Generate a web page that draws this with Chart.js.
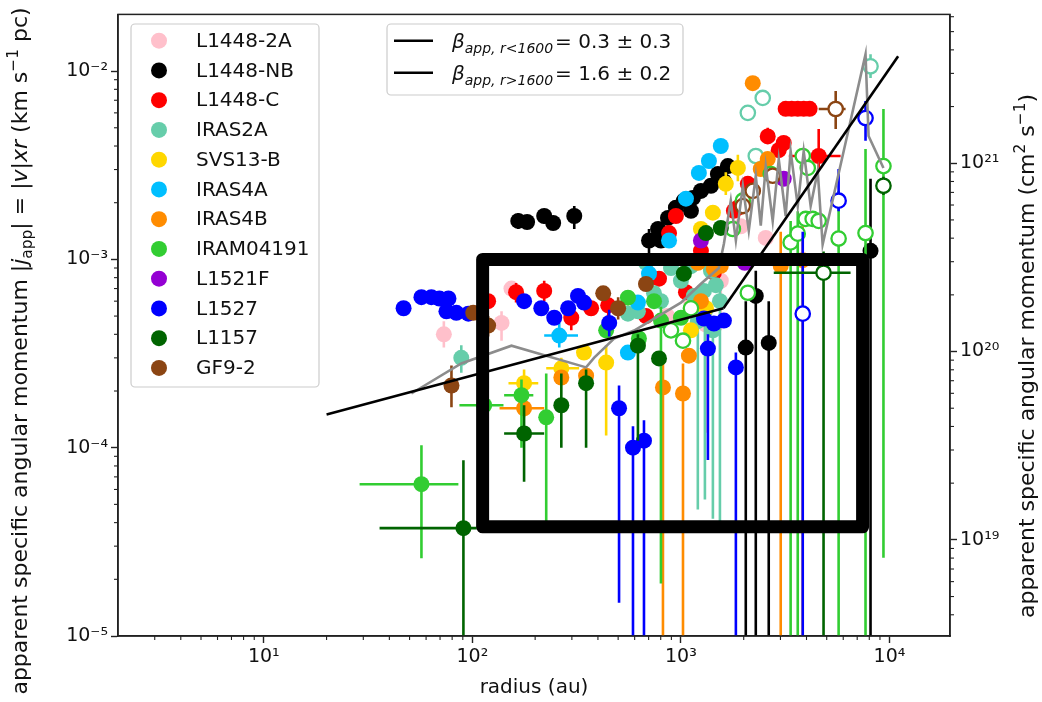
<!DOCTYPE html>
<html><head><meta charset="utf-8"><title>apparent specific angular momentum vs radius</title>
<script src="https://cdn.jsdelivr.net/npm/chart.js@4.4.1/dist/chart.umd.min.js"></script>
<style>html,body{margin:0;padding:0;background:#fff;overflow:hidden}canvas{display:block}</style>
</head><body>
<canvas id="c" width="1042" height="702" style="width:1042px;height:702px"></canvas>
<script>
// ---- data: each point = [r (au), j (km/s pc), jLow, jHigh, rLow, rHigh] ----
const seriesNames = ['L1448-2A','L1448-NB','L1448-C','IRAS2A','SVS13-B','IRAS4A','IRAS4B','IRAM04191','L1521F','L1527','L1157','GF9-2'];
const seriesColors = ['#FFC0CB','#000000','#FF0000','#66CDAA','#FFD700','#00BFFF','#FF8C00','#32CD32','#9400D3','#0000FF','#006400','#8B4513'];

const L1448_2A = [[73,4.0e-4,3.4e-4,4.7e-4],[138,4.6e-4,3.7e-4,5.3e-4],[154,7.0e-4],[1117,6.0e-4],[1318,4.5e-4,1.2e-4,5.2e-4],[1553,7.7e-4,4.2e-4,9.0e-4],[1936,1.5e-3],[2551,1.3e-3],[860,5.0e-4]];
const L1448_NB = [[166,1.60e-3,1.45e-3,1.76e-3],[183,1.58e-3],[221,1.70e-3,1.55e-3,1.85e-3],[244,1.56e-3],[308,1.70e-3,1.45e-3,1.92e-3],[703,1.26e-3,9.6e-4,1.45e-3],[777,1.45e-3],[802,1.26e-3],[867,1.66e-3],[946,1.88e-3],[1033,2.05e-3],[1117,1.81e-3],[1141,2.12e-3],[1247,2.31e-3],[1393,2.46e-3],[1504,2.84e-3],[1607,2.6e-3],[1679,3.13e-3],[2046,3.4e-4,1e-6,6.0e-4],[2285,6.4e-4,1e-6,8.7e-4],[2636,3.6e-4,1e-6,6.0e-4],[8110,1.11e-3,1e-6,2.68e-3]];
const L1448_C = [[119,6.0e-4],[162,6.7e-4,5.9e-4,7.5e-4],[221,6.8e-4,6.0e-4,7.7e-4],[298,4.9e-4,4.2e-4,5.7e-4],[371,5.5e-4],[448,5.7e-4,4.9e-4,6.6e-4],[785,7.9e-4],[1057,6.7e-4],[877,1.38e-3],[946,1.70e-3],[1247,1.11e-3],[1439,8.5e-4],[1794,1.81e-3],[1875,1.88e-3],[2093,2.52e-3],[2607,4.5e-3,4.1e-3,5.0e-3],[2944,3.8e-3],[3110,4.15e-3],[3178,6.3e-3],[3395,6.3e-3],[3631,6.3e-3],[3878,6.3e-3],[4140,6.3e-3],[4576,3.54e-3,2.95e-3,4.93e-3,3290,5830],[680,5.0e-4]];
const IRAS2A = [[88.5,3.0e-4,2.5e-4,3.5e-4],[557,5.15e-4],[622,5.3e-4],[680,9.6e-4],[743,6.6e-4],[802,6.0e-4],[896,9.0e-4],[1000,7.7e-4],[1117,9.2e-4],[1153,6.4e-4],[1205,4.7e-4,4.7e-5,5.6e-4],[1289,6.8e-4],[1303,5.3e-4,5.3e-5,6.2e-4],[1393,8.7e-4],[1423,4.2e-4,4.2e-5,5.0e-4],[1470,7.3e-4],[1538,6.0e-4,3.9e-5,7.0e-4]];
const IRAS2A_open = [[2093,6.0e-3],[2467,7.2e-3],[2285,3.54e-3],[8110,1.06e-2,9.2e-3,1.23e-2]];
const SVS13_B = [[177,2.2e-4,1.9e-4,2.6e-4,149,207],[267,2.64e-4,2.3e-4,3.0e-4,226,325],[343,3.2e-4],[438,2.83e-4,1.16e-4,3.5e-4],[1117,4.2e-4],[1318,5.5e-4],[1247,1.45e-3],[1423,1.77e-3],[1641,2.52e-3,2.2e-3,2.9e-3],[1875,3.06e-3,2.6e-3,3.6e-3]];
const IRAS4A = [[261,3.94e-4,3.4e-4,4.6e-4,221,321],[557,3.2e-4],[622,5.9e-4],[703,8.4e-4],[877,1.26e-3],[1057,2.1e-3],[1219,2.88e-3],[1362,3.33e-3],[1553,4.0e-3]];
const IRAS4B = [[177,1.62e-4,1.45e-4,1.8e-4,135,221],[267,2.36e-4],[351,2.41e-4],[820,2.09e-4,1e-6,3.0e-4],[1023,1.94e-4,1e-6,2.8e-4],[1092,3.08e-4],[1247,6.0e-4],[1205,9.6e-4],[1439,8.9e-4],[1553,9.25e-4],[2414,3.02e-3],[2607,3.41e-3],[3009,9.25e-4,1e-6,1.4e-3],[3837,9.9e-4,1e-6,1.5e-3],[2210,8.63e-3]];
const IRAM04191 = [[57,6.4e-5,2.59e-5,1.03e-4,28.8,85.7],[114,1.68e-4,1.5e-4,1.9e-4,86.7,141],[172,1.9e-4,1.0e-4,2.3e-4,142,196],[226,1.45e-4,3.9e-5,2.48e-4],[438,4.2e-4],[557,6.26e-4],[629,3.8e-4],[743,6.0e-4],[802,4.73e-4,1.9e-5,5.6e-4],[1000,4.9e-4]];
const IRAM04191_open = [[896,4.2e-4],[1023,3.7e-4],[1117,5.5e-4],[1774,1.45e-3],[1981,2.05e-3],[2093,6.65e-4],[2696,2.84e-3],[3357,1.23e-3,1e-6,1.6e-3],[3631,1.37e-3,1e-6,1.8e-3],[3837,3.54e-3],[4055,3.06e-3],[3963,1.64e-3],[4281,1.64e-3],[4576,1.60e-3],[5702,1.29e-3,1e-6,2.31e-3],[7674,1.38e-3,1e-6,3.86e-3],[9354,3.13e-3,2.6e-5,6.29e-3]];
const L1521F = [[1247,1.26e-3],[2023,9.6e-4],[3110,2.68e-3]];
const L1527 = [[46.8,5.5e-4],[57,6.3e-4],[63.6,6.3e-4],[69.5,6.2e-4],[76.8,6.2e-4],[75.1,5.3e-4],[83.8,5.2e-4],[95.7,5.15e-4],[177,6.0e-4],[214,5.5e-4],[247,4.9e-4],[288,5.5e-4],[321,6.4e-4],[343,5.9e-4],[453,4.6e-4,3.9e-4,5.4e-4],[505,1.62e-4,1.5e-5,2.14e-4],[589,1.0e-4,1e-6,1.3e-4],[665,1.09e-4,1e-6,1.4e-4],[1289,4.85e-4],[1347,3.36e-4,8.6e-5,4.0e-4],[1439,4.56e-4],[1607,4.73e-4],[1834,2.67e-4,1e-6,3.2e-4]];
const L1527_open = [[3837,5.15e-4,1e-6,1.4e-3],[5702,2.05e-3,1.8e-3,3.02e-3],[7674,5.63e-3,4.26e-3,6.93e-3]];
const L1157 = [[90.6,3.74e-5,1e-6,8.57e-5,35.9,105],[177,1.19e-4,6.6e-5,1.68e-4,142,221],[267,1.68e-4,1.0e-4,2.48e-4],[351,2.2e-4,1.0e-4,2.6e-4],[622,3.48e-4,1.09e-4,4.0e-4],[785,2.98e-4],[1033,8.4e-4],[1318,1.38e-3],[1553,1.47e-3]];
const L1157_open = [[4828,8.5e-4,1e-6,1.1e-3,2786,6506],[9354,2.46e-3,2.2e-3,2.75e-3]];
const GF9_2 = [[79.4,2.14e-4,1.64e-4,2.73e-4],[101,5.2e-4],[119,4.45e-4,3.9e-4,5.0e-4],[424,6.6e-4],[500,5.5e-4,4.8e-4,6.3e-4],[680,7.4e-4]];
const GF9_2_open = [[5521,6.29e-3,4.93e-3,7.83e-3,4576,6158],[2754,2.78e-3],[2210,2.31e-3],[1981,1.92e-3]];

// binned running curve (grey)
const binR = [51,88.5,154,351,384,478,596,1000,1247,1520,1607,1734,1834,1981,2115,2285,2414,2551,2754,2944,3178,3357,3631,3878,4188,4527,4780,7674,7937,9354];
const binJ = [1.94e-4,2.8e-4,3.48e-4,2.67e-4,3.01e-4,3.8e-4,4.19e-4,5.89e-4,7.43e-4,9.0e-4,1.21e-3,2.05e-3,1.26e-3,2.46e-3,1.42e-3,2.78e-3,1.51e-3,3.13e-3,1.6e-3,3.41e-3,1.7e-3,3.76e-3,1.92e-3,3.76e-3,1.92e-3,2.95e-3,1.2e-3,1.23e-2,4.52e-3,3.06e-3];
// broken power-law fit
const fitInR = [20,1600], fitInJ = [1.5e-4,5.5e-4];
const fitOutR = [1600,11000], fitOutJ = [5.5e-4,1.2e-2];
const fitLabels = [['0.3','0.3','<'],['1.6','0.2','>']];
// highlighted region (hand-drawn box)
const boxR = [112,7430,7430,112,112];
const boxJ = [1.0e-3,1.0e-3,3.8e-5,3.8e-5,1.0e-3];

const xTitle = 'radius (au)';
const KMSPC_TO_CGS = 3.0857e23;

// ---- build chart ----
const FONT = '"DejaVu Sans", sans-serif';
Chart.defaults.font.family = FONT;
const filledData = [L1448_2A,L1448_NB,L1448_C,IRAS2A,SVS13_B,IRAS4A,IRAS4B,IRAM04191,L1521F,L1527,L1157,GF9_2];
const openData = [null,null,null,IRAS2A_open,null,null,null,IRAM04191_open,null,L1527_open,L1157_open,GF9_2_open];
const pts = a => a.map(p => ({x:p[0], y:p[1]}));
const zip = (a,b) => a.map((v,i) => ({x:v, y:b[i]}));

const datasets = [];
seriesNames.forEach((name,i) => {
  const c = seriesColors[i];
  datasets.push({label:name, data:pts(filledData[i]), err:filledData[i], errColor:c,
    backgroundColor:c, borderColor:c, pointBackgroundColor:c, pointBorderColor:c,
    pointRadius:8, pointBorderWidth:0, order:100 - i*2});
  if (openData[i]) datasets.push({label:name+' (open)', data:pts(openData[i]), err:openData[i], errColor:c,
    backgroundColor:'#fff', borderColor:c, pointBackgroundColor:'#ffffff', pointBorderColor:c,
    pointRadius:7.2, pointBorderWidth:2.3, order:99 - i*2});
});
datasets.push({label:'binned', type:'line', data:zip(binR,binJ), borderColor:'#8c8c8c', borderWidth:2.6, pointRadius:0, showLine:true, fill:false, tension:0, order:3});
datasets.push({label:'fit r<1600', type:'line', data:zip(fitInR,fitInJ), borderColor:'#000', borderWidth:2.6, pointRadius:0, showLine:true, fill:false, order:2});
datasets.push({label:'fit r>1600', type:'line', data:zip(fitOutR,fitOutJ), borderColor:'#000', borderWidth:2.6, pointRadius:0, showLine:true, fill:false, order:2});
datasets.push({label:'box', type:'line', data:zip(boxR,boxJ), borderColor:'#000', borderWidth:13, pointRadius:0, showLine:true, fill:false, tension:0, borderJoinStyle:'round', borderCapStyle:'round', order:1});

const SUP = {'-':'\u207B','0':'\u2070','1':'\u00B9','2':'\u00B2','3':'\u00B3','4':'\u2074','5':'\u2075','6':'\u2076','7':'\u2077','8':'\u2078','9':'\u2079'};
const isDecade = v => { const l = Math.log10(v); return Math.abs(l - Math.round(l)) < 1e-6; };
const decLabel = v => isDecade(v) ? '10' + String(Math.round(Math.log10(v))).split('').map(ch => SUP[ch]).join('') : '';

function axisOpts(extra){
  return Object.assign({
    type:'logarithmic',
    grid:{display:true, drawOnChartArea:false, drawTicks:true, tickLength:7, tickWidth:1.4,
      tickColor:ctx => (ctx.tick && isDecade(ctx.tick.value)) ? '#222' : 'rgba(0,0,0,0)'},
    border:{display:true, color:'#222', width:1.5},
    ticks:{autoSkip:false, maxRotation:0, minRotation:0, color:'#111', font:{size:19, family:FONT}, callback:v => decLabel(v)}
  }, extra);
}

const errorBars = {
  id:'errorBars',
  beforeDatasetDraw(chart, args){
    const ds = chart.data.datasets[args.index];
    if (!ds.err) return;
    const xs = chart.scales.x, ys = chart.scales.y, a = chart.chartArea, ctx = chart.ctx;
    ctx.save();
    ctx.beginPath(); ctx.rect(a.left, a.top, a.right - a.left, a.bottom - a.top); ctx.clip();
    ctx.strokeStyle = ds.errColor; ctx.lineWidth = 2.6;
    ds.err.forEach(p => {
      const px = xs.getPixelForValue(p[0]), py = ys.getPixelForValue(p[1]);
      if (p.length > 3 && p[2] != null) {
        ctx.beginPath(); ctx.moveTo(px, Math.min(ys.getPixelForValue(p[2]), a.bottom + 20)); ctx.lineTo(px, ys.getPixelForValue(p[3])); ctx.stroke();
      }
      if (p.length > 5 && p[4] != null) {
        ctx.beginPath(); ctx.moveTo(xs.getPixelForValue(p[4]), py); ctx.lineTo(xs.getPixelForValue(p[5]), py); ctx.stroke();
      }
    });
    ctx.restore();
  }
};

function segFont(s, size){
  const small = s[1].indexOf('sub') >= 0 || s[1].indexOf('sup') >= 0;
  const it = s[1].indexOf('i') === 0;
  return {font:(it ? 'italic ' : '') + (small ? size*0.7 : size).toFixed(1) + 'px ' + FONT,
          dy: s[1].indexOf('sub') >= 0 ? size*0.24 : (s[1].indexOf('sup') >= 0 ? -size*0.40 : 0)};
}
function richWidth(ctx, segs, size){ let w = 0; segs.forEach(s => { ctx.font = segFont(s,size).font; w += ctx.measureText(s[0]).width; }); return w; }
function drawRich(ctx, segs, x, y, size){
  let cx = x;
  segs.forEach(s => { const f = segFont(s,size); ctx.font = f.font; ctx.fillText(s[0], cx, y + f.dy); cx += ctx.measureText(s[0]).width; });
}
function roundRect(ctx,x,y,w,h,r){ctx.beginPath();ctx.moveTo(x+r,y);ctx.arcTo(x+w,y,x+w,y+h,r);ctx.arcTo(x+w,y+h,x,y+h,r);ctx.arcTo(x,y+h,x,y,r);ctx.arcTo(x,y,x+w,y,r);ctx.closePath();}

const leftTitle = [['apparent specific angular momentum |',''],['j','i'],['app','sub'],['| = |',''],['v','i'],['|',''],['xr','i'],[' (km s',''],['\u22121','sup'],[' pc)','']];
const rightTitle = [['apparent specific angular momentum (cm',''],['2','sup'],[' s',''],['\u22121','sup'],[')','']];

const decor = {
  id:'decor',
  afterDraw(chart){
    const ctx = chart.ctx, a = chart.chartArea;
    ctx.save();
    // minor ticks
    ctx.strokeStyle = '#222'; ctx.lineWidth = 1.1;
    const minor = (scale, fn) => {
      const lo = Math.floor(Math.log10(scale.min)), hi = Math.ceil(Math.log10(scale.max));
      for (let e = lo; e <= hi; e++) for (let k = 2; k <= 9; k++) {
        const v = k * Math.pow(10, e);
        if (v <= scale.min || v >= scale.max) continue;
        fn(scale.getPixelForValue(v));
      }
    };
    minor(chart.scales.x, p => { ctx.beginPath(); ctx.moveTo(p, a.bottom); ctx.lineTo(p, a.bottom + 4); ctx.stroke(); });
    minor(chart.scales.y, p => { ctx.beginPath(); ctx.moveTo(a.left, p); ctx.lineTo(a.left - 4, p); ctx.stroke(); });
    minor(chart.scales.y2, p => { ctx.beginPath(); ctx.moveTo(a.right, p); ctx.lineTo(a.right + 4, p); ctx.stroke(); });
    // frame
    ctx.strokeStyle = '#222'; ctx.lineWidth = 1.5;
    ctx.strokeRect(a.left, a.top, a.right - a.left, a.bottom - a.top);
    // y titles
    ctx.fillStyle = '#111'; ctx.textBaseline = 'alphabetic';
    ctx.save(); ctx.translate(27, 351); ctx.rotate(-Math.PI/2);
    drawRich(ctx, leftTitle, -richWidth(ctx, leftTitle, 22)/2, 0, 22); ctx.restore();
    ctx.save(); ctx.translate(1034, 356); ctx.rotate(-Math.PI/2);
    drawRich(ctx, rightTitle, -richWidth(ctx, rightTitle, 22)/2, 0, 22); ctx.restore();
    // series legend
    roundRect(ctx, 131, 24, 188, 363, 4);
    ctx.fillStyle = 'rgba(255,255,255,0.85)'; ctx.fill();
    ctx.strokeStyle = '#cccccc'; ctx.lineWidth = 1.2; ctx.stroke();
    ctx.textBaseline = 'middle'; ctx.font = '20px ' + FONT;
    seriesNames.forEach((n, i) => {
      const cy = 40.7 + i * 29.75;
      ctx.beginPath(); ctx.arc(159, cy, 8, 0, Math.PI*2); ctx.fillStyle = seriesColors[i]; ctx.fill();
      ctx.fillStyle = '#111'; ctx.fillText(n, 196, cy + 1);
    });
    // fit legend
    roundRect(ctx, 387, 24, 296, 71, 4);
    ctx.fillStyle = 'rgba(255,255,255,0.85)'; ctx.fill();
    ctx.strokeStyle = '#cccccc'; ctx.lineWidth = 1.2; ctx.stroke();
    ctx.textBaseline = 'alphabetic';
    fitLabels.forEach((f, i) => {
      const cy = 40.7 + i * 32;
      ctx.strokeStyle = '#000'; ctx.lineWidth = 2.6;
      ctx.beginPath(); ctx.moveTo(394, cy); ctx.lineTo(433, cy); ctx.stroke();
      ctx.fillStyle = '#111';
      drawRich(ctx, [['\u03B2','i'],['app, r' + f[2] + '1600','isub'],['\u200A= ' + f[0] + ' \u00B1 ' + f[1],'']], 452, cy + 7, 20);
    });
    ctx.restore();
  }
};

new Chart(document.getElementById('c'), {
  type:'scatter',
  data:{datasets},
  options:{
    responsive:false, animation:false, devicePixelRatio:1,
    layout:{padding:{top:13, left:0, right:0, bottom:0}},
    plugins:{legend:{display:false}, tooltip:{enabled:false}},
    scales:{
      x:axisOpts({position:'bottom', min:2, max:19500, afterFit:s => { s.height = 66; },
        title:{display:true, text:xTitle, color:'#111', font:{size:20, family:FONT}, padding:{top:0, bottom:2}}}),
      y:axisOpts({position:'left', min:1e-5, max:0.02, afterFit:s => { s.width = 118; }}),
      y2:axisOpts({position:'right', min:1e-5*KMSPC_TO_CGS, max:0.02*KMSPC_TO_CGS, afterFit:s => { s.width = 92; }})
    }
  },
  plugins:[errorBars, decor]
});
</script>
</body></html>
